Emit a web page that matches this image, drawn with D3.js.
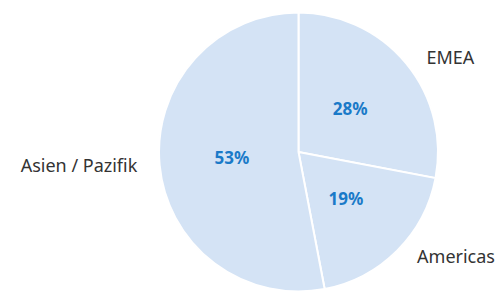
<!DOCTYPE html>
<html>
<head>
<meta charset="utf-8">
<script src="https://cdn.jsdelivr.net/npm/d3@7"></script>
<style>
  body { margin: 0; background: #fff; }
  text { font-family: "Noto Sans", Lato, sans-serif; }
</style>
</head>
<body>
<script>
// chart data
var regions = ["EMEA", "Americas", "Asien / Pazifik"];
var shares = [28, 19, 53];
var shareLabels = ["28%", "19%", "53%"];

var width = 503, height = 291;
var cx = 298.5, cy = 152, radius = 139.5;

var svg = d3.select("body")
    .append("svg")
    .attr("width", width)
    .attr("height", height);

var g = svg.append("g")
    .attr("transform", "translate(" + cx + "," + cy + ")");

// pie layout, clockwise from 12 o'clock, data order kept
var pie = d3.pie()
    .sort(null)
    .value(function(d) { return d; });

var arcs = pie(shares);

var arc = d3.arc()
    .innerRadius(0)
    .outerRadius(radius);

var labelArc = d3.arc()
    .innerRadius(radius * 0.48)
    .outerRadius(radius * 0.48);

var outerArc = d3.arc()
    .innerRadius(radius * 1.06)
    .outerRadius(radius * 1.06);

// slices
g.selectAll(".slice")
    .data(arcs)
    .enter()
    .append("path")
    .attr("class", "slice")
    .attr("d", arc)
    .attr("fill", "#d4e3f5")
    .attr("stroke", "#fff")
    .attr("stroke-width", 2);

// percentages inside
g.selectAll(".pct")
    .data(arcs)
    .enter()
    .append("text")
    .attr("class", "pct")
    .attr("transform", function(d) { return "translate(" + labelArc.centroid(d) + ")"; })
    .attr("text-anchor", "middle")
    .attr("dy", "0.35em")
    .attr("font-size", 17)
    .attr("font-weight", "bold")
    .attr("fill", "#1a7ac8")
    .text(function(d, i) { return shareLabels[i]; });

// category names outside
g.selectAll(".name")
    .data(arcs)
    .enter()
    .append("text")
    .attr("class", "name")
    .attr("x", function(d) {
        var c = outerArc.centroid(d);
        return c[0] + (c[0] > 0 ? 14 : -14);
    })
    .attr("y", function(d) { return outerArc.centroid(d)[1]; })
    .attr("text-anchor", function(d) { return outerArc.centroid(d)[0] > 0 ? "start" : "end"; })
    .attr("dy", "0.35em")
    .attr("font-size", 18)
    .attr("fill", "#333")
    .text(function(d, i) { return regions[i]; });
</script>
</body>
</html>
